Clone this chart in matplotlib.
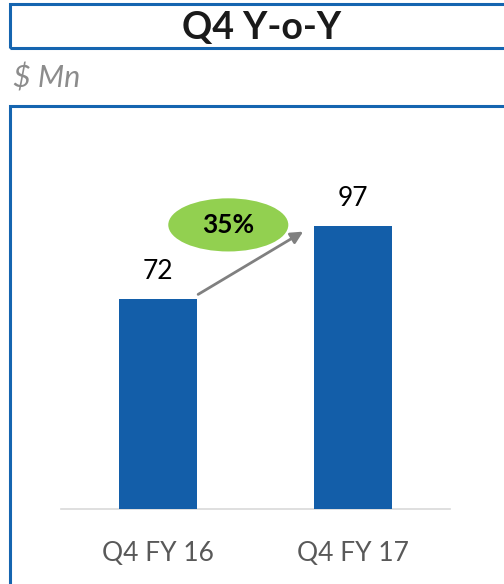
import matplotlib
matplotlib.use("Agg")
import matplotlib.pyplot as plt
from matplotlib.patches import Rectangle, Ellipse

plt.rcParams['font.family'] = ['Lato', 'DejaVu Sans']

categories = ['Q4 FY 16', 'Q4 FY 17']
values = [72, 97]
growth_label = '35%'

bar_color = '#135EA9'
box_color = '#1565B0'

fig = plt.figure(figsize=(5.04, 5.84), dpi=100)

# frame boxes (run past the right/bottom edge like the slide crop)
fig.patches.append(Rectangle((0.0198, 0.9178), 1.2, 0.0754, transform=fig.transFigure,
                             fill=False, edgecolor=box_color, linewidth=2.2))
fig.patches.append(Rectangle((0.0198, -0.2), 1.2, 1.0185, transform=fig.transFigure,
                             fill=False, edgecolor=box_color, linewidth=2.2))
fig.text(0.518, 0.952, 'Q4 Y-o-Y', ha='center', va='center', fontsize=27,
         fontweight='bold', color='#1a1a1a')
fig.text(0.026, 0.866, '$ Mn', ha='left', va='center', fontsize=22,
         fontstyle='italic', color='#8c8c8c')

ax = fig.add_axes([0.121, 0.1284, 0.772, 0.666])
x = list(range(len(categories)))
ax.bar(x, values, width=0.402, color=bar_color, zorder=3)
ax.set_xlim(-0.5, 1.5)
ax.set_ylim(0, 133.2)

for xi, v in zip(x, values):
    ax.text(xi, v + 5, str(v), ha='center', va='bottom', fontsize=19, color='black')

ax.set_xticks(x)
ax.set_xticklabels(categories, fontsize=19, color='#595959')
ax.tick_params(axis='x', length=0, pad=23)
ax.set_yticks([])
for s in ['top', 'right', 'left']:
    ax.spines[s].set_visible(False)
ax.spines['bottom'].set_color('#d9d9d9')
ax.spines['bottom'].set_linewidth(1.2)

# growth arrow and bubble
ax.annotate('', xy=(0.745, 95), xytext=(0.205, 73.5),
            arrowprops=dict(arrowstyle='-|>', color='#808080', lw=2,
                            mutation_scale=18, shrinkA=0, shrinkB=0))
ax.add_patch(Ellipse((0.36, 97.3), 0.617, 18.2, facecolor='#92D050',
                     edgecolor='none', zorder=4))
ax.text(0.36, 97.3, growth_label, ha='center', va='center', fontsize=19,
        fontweight='bold', color='black', zorder=5)

fig.savefig('out.png', dpi=100)
